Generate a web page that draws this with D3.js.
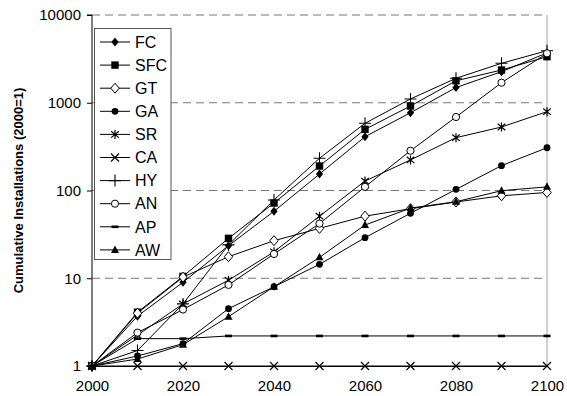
<!DOCTYPE html>
<html>
<head>
<meta charset="utf-8">
<script src="https://cdn.jsdelivr.net/npm/d3@7/dist/d3.min.js"></script>
<style>
  html, body { margin: 0; padding: 0; background: #fff; }
  svg { display: block; font-family: "Liberation Sans", Arial, Helvetica, sans-serif; }
</style>
</head>
<body>
<svg id="chart" width="567" height="396"></svg>
<script>
// Decades on the horizontal axis
const years = [2000, 2010, 2020, 2030, 2040, 2050, 2060, 2070, 2080, 2090, 2100];

// Cumulative installations per technology, indexed to 2000 = 1
const FC  = [1, 3.7, 9.0, 23.5, 58, 154, 410, 770, 1490, 2260, 3700];
const SFC = [1, 4.1, 10.5, 28.5, 72, 190, 498, 918, 1780, 2360, 3350];
const GT  = [1, 4.0, 10.3, 17.6, 26.8, 37, 51, 62, 74, 87, 95];
const GA  = [1, 1.3, 1.8, 4.5, 8.0, 14.4, 29, 55, 103, 192, 307];
const SR  = [1, 2.25, 5.1, 9.5, 20, 51, 128, 223, 400, 529, 791];
const CA  = [1, 1, 1, 1, 1, 1, 1, 1, 1, 1, 1];
const HY  = [1, 1.5, 5.1, 24, 78, 233, 583, 1105, 1900, 2814, 3920];
const AN  = [1, 2.4, 4.4, 8.4, 18.9, 42, 110, 284, 688, 1693, 3660];
const AP  = [1, 2.05, 2.05, 2.2, 2.2, 2.2, 2.2, 2.2, 2.2, 2.2, 2.2];
const AW  = [1, 1.2, 1.75, 3.65, 8.0, 17.3, 40.4, 63, 74.5, 99.5, 110];

const seriesNames = ["FC", "SFC", "GT", "GA", "SR", "CA", "HY", "AN", "AP", "AW"];
const seriesValues = [FC, SFC, GT, GA, SR, CA, HY, AN, AP, AW];
const yTicks = [1, 10, 100, 1000, 10000];
const xTicks = [2000, 2020, 2040, 2060, 2080, 2100];
const yTitle = "Cumulative Installations (2000=1)";

// Marker shape per series
const markerKind = {
  FC: "diamondFill", SFC: "squareFill", GT: "diamondOpen", GA: "circleFill",
  SR: "star", CA: "cross", HY: "plus", AN: "circleOpen", AP: "dash", AW: "triangleFill"
};

const svg = d3.select("#chart");
const plot = { left: 92, right: 547, top: 15, bottom: 366 };

const x = d3.scaleLinear().domain([2000, 2100]).range([plot.left, plot.right]);
const y = d3.scaleLog().domain([1, 10000]).range([plot.bottom, plot.top]);

// Dashed horizontal gridlines
svg.append("g")
  .selectAll("line")
  .data(yTicks.filter(d => d > 1))
  .join("line")
  .attr("x1", plot.left).attr("x2", plot.right)
  .attr("y1", d => y(d)).attr("y2", d => y(d))
  .attr("stroke", "#777").attr("stroke-width", 1)
  .attr("stroke-dasharray", "8,5");

// Right border of plot area
svg.append("line")
  .attr("x1", plot.right).attr("x2", plot.right)
  .attr("y1", plot.top).attr("y2", plot.bottom)
  .attr("stroke", "#b0b0b0").attr("stroke-width", 1.2);

// Y axis
const yAxis = d3.axisLeft(y).tickValues(yTicks).tickFormat(d3.format("d")).tickSize(5).tickPadding(6);
const gy = svg.append("g").attr("transform", `translate(${plot.left},0)`).call(yAxis);
gy.select(".domain").attr("stroke", "#000").attr("d", `M-5,${plot.top}H0V${plot.bottom}H-5`);
gy.selectAll(".tick line").attr("stroke", "#000");
gy.selectAll(".tick text").attr("font-size", 15).attr("fill", "#000")
  .attr("font-family", "Liberation Sans, Arial, sans-serif");

// X axis
const xAxis = d3.axisBottom(x).tickValues(xTicks).tickFormat(d3.format("d")).tickSize(0).tickPadding(14);
const gx = svg.append("g").attr("transform", `translate(0,${plot.bottom})`).call(xAxis);
gx.select(".domain").attr("stroke", "#000");
gx.selectAll(".tick text").attr("font-size", 15).attr("fill", "#000")
  .attr("font-family", "Liberation Sans, Arial, sans-serif");

// Axis title
svg.append("text")
  .attr("transform", `translate(23,${(plot.top + plot.bottom) / 2}) rotate(-90)`)
  .attr("text-anchor", "middle")
  .attr("font-size", 13).attr("font-weight", "bold")
  .text(yTitle);

// Marker drawing
function drawMarker(g, kind) {
  switch (kind) {
    case "diamondFill":
      g.append("path").attr("d", "M0,-4.5L3.6,0L0,4.5L-3.6,0Z").attr("fill", "#000"); break;
    case "diamondOpen":
      g.append("path").attr("d", "M0,-5L4.2,0L0,5L-4.2,0Z").attr("fill", "#fff").attr("stroke", "#000").attr("stroke-width", 1); break;
    case "squareFill":
      g.append("rect").attr("x", -3.7).attr("y", -3.7).attr("width", 7.4).attr("height", 7.4).attr("fill", "#000"); break;
    case "circleFill":
      g.append("circle").attr("r", 3.4).attr("fill", "#000"); break;
    case "circleOpen":
      g.append("circle").attr("r", 3.6).attr("fill", "#fff").attr("stroke", "#000").attr("stroke-width", 1); break;
    case "triangleFill":
      g.append("path").attr("d", "M0,-4.5L4,3L-4,3Z").attr("fill", "#000"); break;
    case "dash":
      g.append("rect").attr("x", -3.5).attr("y", -1.3).attr("width", 7).attr("height", 2.6).attr("fill", "#000"); break;
    case "cross":
      g.append("path").attr("d", "M-4,-4L4,4M-4,4L4,-4").attr("stroke", "#000").attr("stroke-width", 1.1).attr("fill", "none"); break;
    case "plus":
      g.append("path").attr("d", "M-6,0H6M0,-6V6").attr("stroke", "#000").attr("stroke-width", 1.1).attr("fill", "none"); break;
    case "star":
      g.append("path").attr("d", "M0,-4.5V4.5M-3.8,-3.2L3.8,3.2M-3.8,3.2L3.8,-3.2").attr("stroke", "#000").attr("stroke-width", 1.2).attr("fill", "none"); break;
  }
}

const line = d3.line().x(d => x(d.year)).y(d => y(d.value));

seriesNames.forEach((name, i) => {
  const pts = years.map((yr, j) => ({ year: yr, value: seriesValues[i][j] }));
  const g = svg.append("g").attr("class", "series-" + name);
  g.append("path").datum(pts).attr("d", line)
    .attr("fill", "none").attr("stroke", "#000").attr("stroke-width", 1);
  g.selectAll("g.m").data(pts).join("g").attr("class", "m")
    .attr("transform", d => `translate(${x(d.year)},${y(d.value)})`)
    .each(function () { drawMarker(d3.select(this), markerKind[name]); });
});

// Legend
const legend = svg.append("g");
legend.append("rect")
  .attr("x", 94.5).attr("y", 28.5).attr("width", 76.5).attr("height", 231)
  .attr("fill", "#fff").attr("stroke", "#555").attr("stroke-width", 1);
seriesNames.forEach((name, i) => {
  const cy = 42 + i * 23.1;
  const row = legend.append("g");
  row.append("line").attr("x1", 100).attr("x2", 130).attr("y1", cy).attr("y2", cy)
    .attr("stroke", "#000").attr("stroke-width", 1);
  const mg = row.append("g").attr("transform", `translate(115,${cy})`);
  drawMarker(mg, markerKind[name]);
  row.append("text").attr("x", 135).attr("y", cy).attr("dy", "0.36em")
    .attr("font-size", 16).text(name);
});
</script>
</body>
</html>
